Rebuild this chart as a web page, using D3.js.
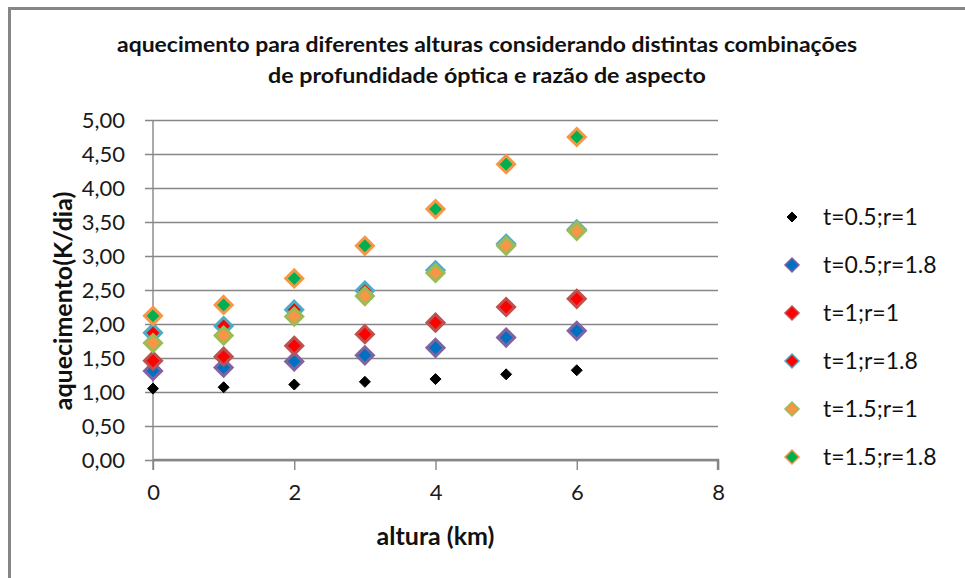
<!DOCTYPE html>
<html>
<head>
<meta charset="utf-8">
<script src="https://cdn.jsdelivr.net/npm/d3@7"></script>
<style>
  body { margin: 0; background: #fff; }
  svg text { font-family: Lato, "Open Sans", sans-serif; }
</style>
</head>
<body>
<div id="chart"></div>
<script>
// altura (km) on x, aquecimento (K/dia) on y
const alturas = [0, 1, 2, 3, 4, 5, 6];
const t05r1  = [1.05, 1.07, 1.11, 1.15, 1.19, 1.26, 1.32];
const t05r18 = [1.31, 1.36, 1.45, 1.54, 1.65, 1.80, 1.90];
const t1r1   = [1.46, 1.52, 1.68, 1.85, 2.02, 2.25, 2.37];
const t1r18  = [1.87, 1.97, 2.21, 2.49, 2.79, 3.18, 3.39];
const t15r1  = [1.72, 1.83, 2.11, 2.41, 2.75, 3.15, 3.37];
const t15r18 = [2.12, 2.28, 2.67, 3.15, 3.69, 4.35, 4.75];

const seriesNames = ['t=0.5;r=1', 't=0.5;r=1.8', 't=1;r=1', 't=1;r=1.8', 't=1.5;r=1', 't=1.5;r=1.8'];
const xTicks = [0, 2, 4, 6, 8];
const yTicks = [0, 0.5, 1, 1.5, 2, 2.5, 3, 3.5, 4, 4.5, 5];

// marker styles (fill, outline, half-diagonal)
const styles = [
  { fill: '#000000', stroke: '#000000', r: 5.5 },
  { fill: '#0070c0', stroke: '#8064a2', r: 8.5 },
  { fill: '#ff0000', stroke: '#c0504d', r: 8.5 },
  { fill: '#ff0000', stroke: '#4bacc6', r: 8.5 },
  { fill: '#f79646', stroke: '#9bbb59', r: 8.5 },
  { fill: '#00b050', stroke: '#f79646', r: 8.5 },
];
const allSeries = [t05r1, t05r18, t1r1, t1r18, t15r1, t15r18];

const width = 965, height = 578;
const margin = { left: 153, right: 247, top: 120, bottom: 118 };
const grey = '#868686';

const svg = d3.select('#chart').append('svg')
  .attr('width', width)
  .attr('height', height);

// chart frame (only top and left edges are visible in the crop)
svg.append('path')
  .attr('d', `M9.5,${height + 5} V8.5 H${width + 5}`)
  .attr('fill', 'none')
  .attr('stroke', grey)
  .attr('stroke-width', 3);

const x = d3.scaleLinear().domain([0, 8]).range([margin.left, width - margin.right]);
const y = d3.scaleLinear().domain([0, 5]).range([height - margin.bottom, margin.top]);

const ptBR = d3.formatLocale({ decimal: ',', thousands: '.', grouping: [3], currency: ['R$', ''] });
const fmt = ptBR.format('.2f');

// horizontal gridlines + y labels
const yAxis = d3.axisLeft(y)
  .tickValues(yTicks)
  .tickSize(8)
  .tickPadding(20)
  .tickFormat(fmt);

const gy = svg.append('g')
  .attr('transform', `translate(${x(0)},0)`)
  .call(yAxis);
gy.select('.domain').remove();
gy.selectAll('.tick line')
  .attr('x1', -8)
  .attr('x2', x(8) - x(0))
  .attr('stroke', grey)
  .attr('stroke-width', 1.4);
gy.selectAll('.tick text')
  .attr('font-size', 22)
  .attr('fill', '#1a1a1a')
  .attr('font-family', 'Lato, sans-serif');

// x axis
const xAxis = d3.axisBottom(x)
  .tickValues(xTicks)
  .tickSize(10)
  .tickPadding(14)
  .tickFormat(d3.format('d'));
const gx = svg.append('g')
  .attr('transform', `translate(0,${y(0)})`)
  .call(xAxis);
gx.select('.domain')
  .attr('d', `M${x(0)},0H${x(8)}V10`)
  .attr('stroke', grey)
  .attr('stroke-width', 2.4);
gx.selectAll('.tick line').attr('stroke', grey).attr('stroke-width', 1.4);
gx.selectAll('.tick text')
  .attr('font-size', 22)
  .attr('fill', '#1a1a1a')
  .attr('font-family', 'Lato, sans-serif');

// vertical axis line
svg.append('line')
  .attr('x1', x(0)).attr('x2', x(0))
  .attr('y1', y(5)).attr('y2', y(0) + 10)
  .attr('stroke', grey)
  .attr('stroke-width', 1.4);

const diamond = r => `M0,${-r}L${r},0L0,${r}L${-r},0Z`;

// points, series drawn in order so later ones sit on top
allSeries.forEach((vals, i) => {
  const st = styles[i];
  svg.append('g')
    .selectAll('path')
    .data(alturas.map((a, j) => ({ a, v: vals[j] })))
    .join('path')
    .attr('transform', d => `translate(${x(d.a)},${y(d.v)})`)
    .attr('d', diamond(st.r))
    .attr('fill', st.fill)
    .attr('stroke', st.stroke)
    .attr('stroke-width', i === 0 ? 1 : 3);
});

// legend
const legend = svg.append('g').attr('transform', 'translate(792,217)');
seriesNames.forEach((name, i) => {
  const st = styles[i];
  const row = legend.append('g').attr('transform', `translate(0,${i * 48})`);
  row.append('path')
    .attr('d', diamond(i === 0 ? 5 : 7))
    .attr('fill', st.fill)
    .attr('stroke', st.stroke)
    .attr('stroke-width', i === 0 ? 1 : 1.5);
  row.append('text')
    .attr('x', 31)
    .attr('y', 0)
    .attr('dy', '0.35em')
    .attr('font-size', 23)
    .attr('fill', '#111')
    .text(name);
});

// titles
const title = svg.append('text')
  .attr('text-anchor', 'middle')
  .attr('font-weight', 'bold')
  .attr('font-size', 21)
  .attr('fill', '#111');
title.append('tspan').attr('x', 487).attr('y', 52)
  .attr('textLength', 740).attr('lengthAdjust', 'spacingAndGlyphs')
  .text('aquecimento para diferentes alturas considerando distintas combinações');
title.append('tspan').attr('x', 487).attr('y', 83)
  .attr('textLength', 438).attr('lengthAdjust', 'spacingAndGlyphs')
  .text('de profundidade óptica e razão de aspecto');

svg.append('text')
  .attr('x', (x(0) + x(8)) / 2)
  .attr('y', 545)
  .attr('text-anchor', 'middle')
  .attr('font-weight', 'bold')
  .attr('font-size', 25)
  .attr('fill', '#111')
  .text('altura (km)');

svg.append('text')
  .attr('transform', 'translate(72,301) rotate(-90)')
  .attr('text-anchor', 'middle')
  .attr('font-weight', 'bold')
  .attr('font-size', 25)
  .attr('fill', '#111')
  .text('aquecimento(K/dia)');
</script>
</body>
</html>
